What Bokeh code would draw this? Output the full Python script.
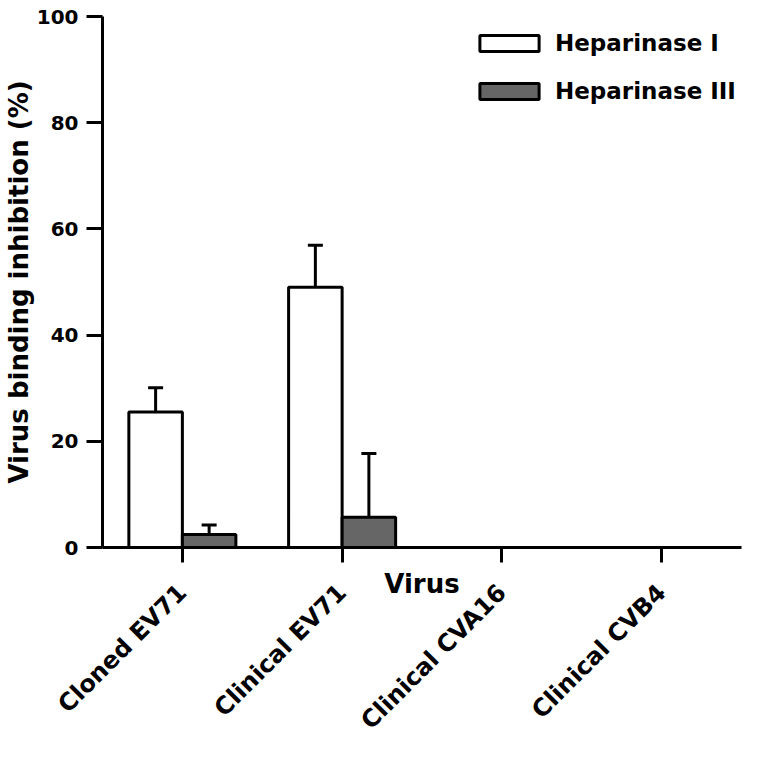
import math
from bokeh.plotting import figure
from bokeh.models import (ColumnDataSource, FactorRange, Range1d, Whisker, TeeHead,
                          FixedTicker, CategoricalAxis)
from bokeh.transform import dodge
from bokeh.embed import file_html
from bokeh.resources import INLINE

# ---- data ----
viruses = ["Cloned EV71", "Clinical EV71", "Clinical CVA16", "Clinical CVB4"]
hep1 = [25.5, 49.0, 0.0, 0.0]
hep1_err = [4.6, 7.9, 0.0, 0.0]
hep3 = [2.45, 5.7, 0.0, 0.0]
hep3_err = [1.8, 12.0, 0.0, 0.0]
y_ticks = [0, 20, 40, 60, 80, 100]
series_names = ["Heparinase I", "Heparinase III"]
x_title = "Virus"
y_title = "Virus binding inhibition (%)"

FONT = "DejaVu Sans"

src = ColumnDataSource(dict(
    virus=viruses,
    hep1=hep1,
    hep1_up=[v + e for v, e in zip(hep1, hep1_err)],
    hep3=hep3,
    hep3_up=[v + e for v, e in zip(hep3, hep3_err)],
))

p = figure(x_range=FactorRange(*viruses, range_padding=0), y_range=Range1d(0, 100),
           width=767, height=747, output_backend="svg", toolbar_location=None,
           min_border_left=102, min_border_right=26, min_border_top=16, min_border_bottom=200)

bw = 0.335
off = 0.1675

w1 = Whisker(base=dodge("virus", -off, range=p.x_range), lower="hep1", upper="hep1_up",
             source=src, line_width=3, line_color="black",
             upper_head=TeeHead(size=15, line_width=3, line_color="black"), lower_head=None)
w3 = Whisker(base=dodge("virus", off, range=p.x_range), lower="hep3", upper="hep3_up",
             source=src, line_width=3, line_color="black",
             upper_head=TeeHead(size=15, line_width=3, line_color="black"), lower_head=None)
p.add_layout(w1)
p.add_layout(w3)

p.vbar(x=dodge("virus", -off, range=p.x_range), top="hep1", width=bw, source=src,
       fill_color="white", line_color="black", line_width=3, legend_label=series_names[0])
p.vbar(x=dodge("virus", off, range=p.x_range), top="hep3", width=bw, source=src,
       fill_color="#666666", line_color="black", line_width=3, legend_label=series_names[1])

p.xgrid.visible = False
p.ygrid.visible = False
p.outline_line_color = None

# y axis
ya = p.yaxis[0]
ya.ticker = FixedTicker(ticks=y_ticks)
ya.axis_line_width = 3
ya.major_tick_line_width = 3
ya.major_tick_in = 0
ya.major_tick_out = 16
ya.minor_tick_line_color = None
ya.major_label_standoff = 8
ya.major_label_text_font = FONT
ya.major_label_text_font_style = "bold"
ya.major_label_text_font_size = "20px"
ya.major_label_text_color = "black"
ya.axis_label = y_title
ya.axis_label_standoff = 0
ya.axis_label_text_font = FONT
ya.axis_label_text_font_style = "bold"
ya.axis_label_text_font_size = "26px"
ya.axis_label_text_color = "black"

# x axis 1: line, ticks and the "Virus" title (nearest the plot)
xa = p.xaxis[0]
xa.axis_line_width = 3
xa.major_tick_line_width = 3
xa.major_tick_in = 0
xa.major_tick_out = 15
xa.major_label_text_color = None
xa.major_label_text_font_size = "1px"
xa.major_label_standoff = 0
xa.axis_label = x_title
xa.axis_label_standoff = 6
xa.axis_label_text_font = FONT
xa.axis_label_text_font_style = "bold"
xa.axis_label_text_font_size = "26px"
xa.axis_label_text_color = "black"

# x axis 2: rotated category labels below the title
xb = CategoricalAxis(axis_line_color=None, major_tick_line_color=None,
                     major_tick_in=0, major_tick_out=0, minor_tick_line_color=None,
                     major_label_orientation=math.pi / 4, major_label_standoff=-13,
                     major_label_text_font=FONT, major_label_text_font_style="bold",
                     major_label_text_font_size="24px", major_label_text_color="black")
p.add_layout(xb, "below")

# legend
lg = p.legend[0]
lg.location = (370, 443)
lg.glyph_width = 74
lg.glyph_height = 20
lg.label_standoff = 9
lg.spacing = 22
lg.padding = 0
lg.margin = 0
lg.border_line_color = None
lg.background_fill_alpha = 0
lg.label_text_font = FONT
lg.label_text_font_style = "bold"
lg.label_text_font_size = "23px"
lg.label_text_color = "black"

open("out.html", "w").write(file_html(p, INLINE))
